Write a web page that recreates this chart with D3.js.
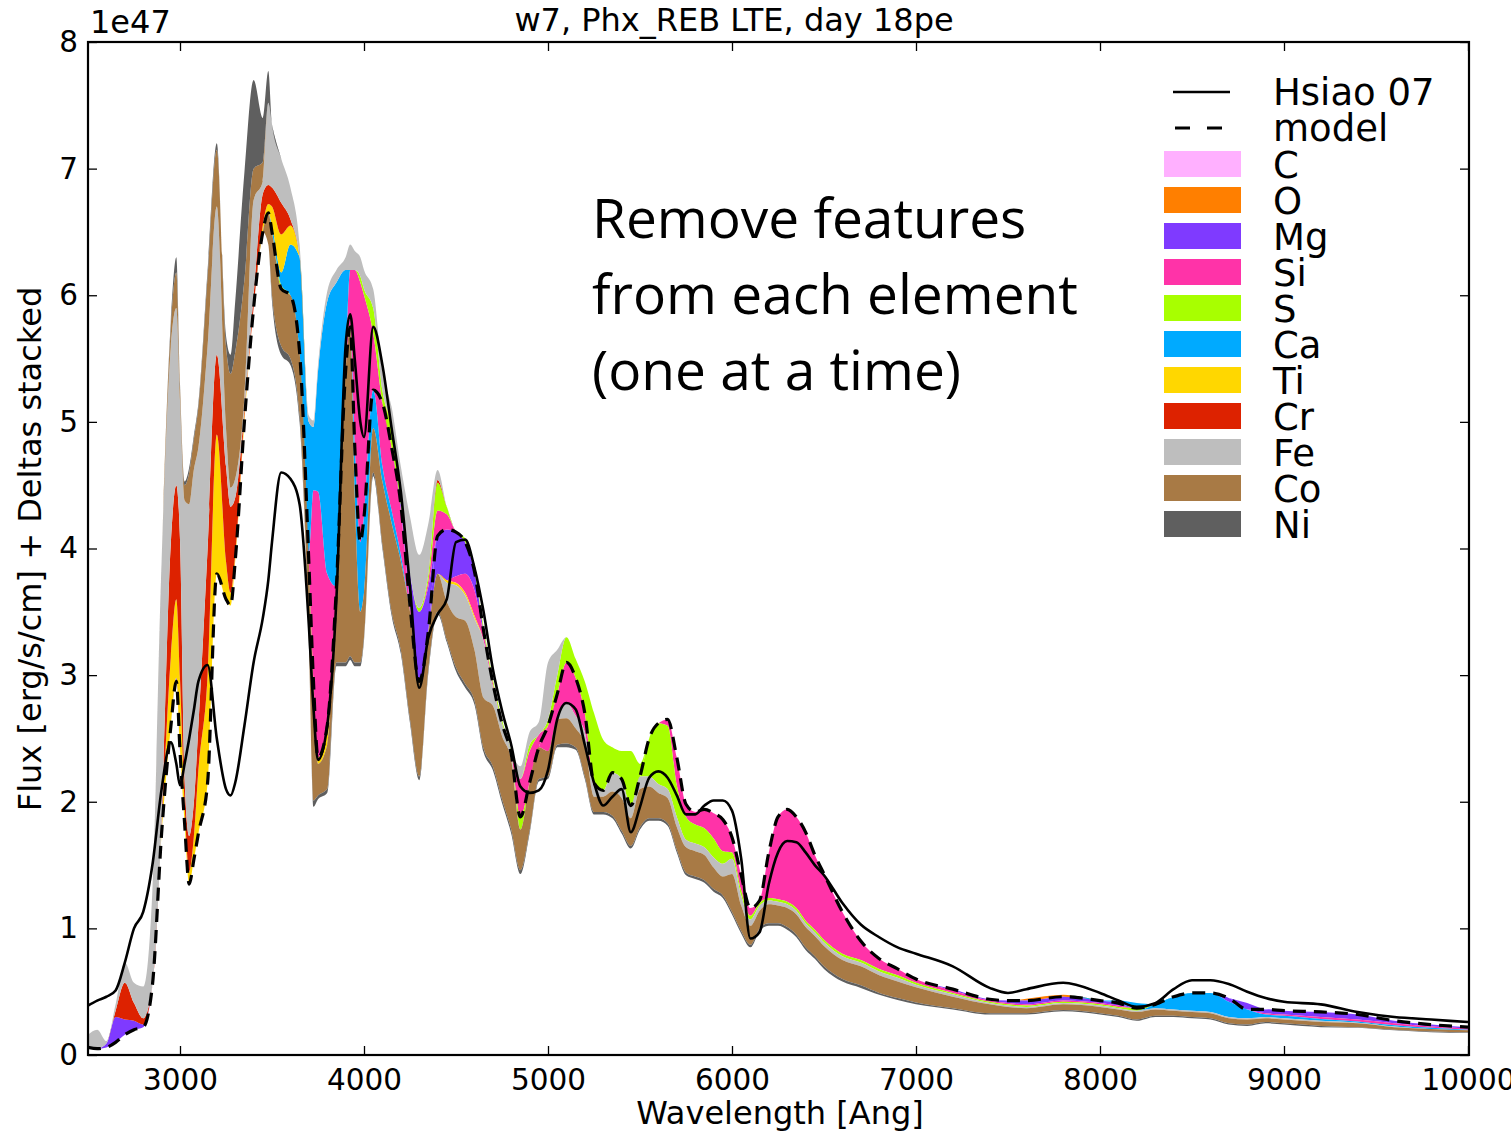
<!DOCTYPE html>
<html><head><meta charset="utf-8">
<script src="https://cdn.jsdelivr.net/npm/d3@7"></script>
<style>body{margin:0;background:#fff}svg{display:block}</style>
</head><body>
<svg id="chart" width="1511" height="1135"></svg>
<script>
// ---------------- data (flux in units of 1e47) ----------------
const wavelengths = [2500,2550,2600,2650,2700,2750,2800,2850,2900,2950,
 2980,3000,3025,3050,3075,3100,3150,3200,3250,3275,
 3300,3350,3400,3450,3480,3500,3550,3600,3650,3700,
 3725,3750,3800,3850,3900,3925,3950,3980,4000,4050,
 4100,4150,4200,4250,4300,4350,4400,4450,4500,4550,
 4600,4650,4700,4750,4800,4850,4900,4950,5000,5050,
 5100,5150,5200,5250,5300,5350,5400,5450,5500,5550,
 5600,5650,5700,5750,5800,5850,5900,5950,6000,6050,
 6100,6150,6200,6250,6300,6350,6400,6450,6500,6600,
 6700,6800,6900,7000,7200,7400,7500,7600,7800,8000,
 8100,8200,8300,8400,8500,8600,8700,8800,8900,9000,
 9200,9400,9600,9800,10000];

const model = [.06,.05,.06,.10,.16,.20,.22,.55,1.75,2.59,
 2.95,2.40,1.83,1.35,1.54,1.75,2.15,3.80,3.60,3.55,
 3.90,5.00,5.90,6.50,6.65,6.50,6.05,6.00,5.55,3.90,
 2.96,2.35,2.60,3.70,5.40,5.75,4.80,4.05,4.25,5.25,
 5.15,4.80,4.35,3.55,2.95,3.35,4.10,4.15,4.13,4.05,
 3.82,3.35,2.94,2.62,2.38,1.88,2.15,2.43,2.60,2.85,
 3.10,2.98,2.70,2.15,2.09,2.23,2.18,1.97,2.20,2.50,
 2.62,2.65,2.35,1.98,1.92,1.94,1.91,1.86,1.72,1.42,
 1.16,1.22,1.60,1.88,1.94,1.88,1.76,1.58,1.43,1.13,
 .90,.76,.68,.60,.52,.44,.43,.43,.46,.43,
 .41,.37,.40,.46,.49,.49,.45,.36,.36,.35,
 .34,.32,.27,.24,.22];

const hsiao = [.39,.43,.46,.51,.73,1.0,1.13,1.5,2.1,2.47,
 2.3,2.13,2.3,2.5,2.72,2.95,3.08,2.5,2.1,2.05,
 2.15,2.6,3.1,3.45,3.75,4.05,4.6,4.55,4.35,3.4,
 2.75,2.33,2.6,3.6,5.6,5.85,5.49,5.0,4.88,5.75,
 5.45,4.95,4.45,3.7,2.9,3.3,3.48,3.6,4.05,4.07,
 3.85,3.5,3.05,2.72,2.45,2.12,2.07,2.09,2.25,2.65,
 2.78,2.73,2.45,2.15,1.97,2.04,2.1,1.76,1.96,2.19,
 2.24,2.19,2.05,1.9,1.9,1.97,2.01,2.01,1.93,1.55,
 .92,.97,1.35,1.6,1.69,1.68,1.6,1.5,1.42,1.2,
 1.03,.93,.85,.80,.70,.53,.49,.52,.57,.49,
 .43,.38,.41,.52,.59,.59,.56,.50,.45,.42,
 .40,.34,.30,.28,.26];

// deltas per element (flux without element minus model)
const deltaC = [0,0,0,0,0,0,0,0,0,0, 0,0,0,0,0,0,0,0,0,0, 0,0,0,0,0,0,0,0,0,0,
 0,0,0,0,0,0,0,0,0,0, 0,0,0,0,0,0,0,0,0,0, 0,0,0,0,0,0,0,0,0,0,
 0,0,0,0,0,0,0,0,0,0, 0,0,0,0,0,0,0,0,0,0, 0,0,0,0,0,0,0,0,0,0,
 0,0,0,0,0,0,0,0,0,0, 0,0,0,0,0,0,0,0,0,0, 0,0,0,0,0];
const deltaO = [0,0,0,0,0,0,0,0,0,0, 0,0,0,0,0,0,0,0,0,0, 0,0,0,0,0,0,0,0,0,0,
 0,0,0,0,0,0,0,0,0,0, 0,0,0,0,0,0,0,0,0,0, 0,0,0,0,0,0,0,0,0,0,
 0,0,0,0,0,0,0,0,0,0, 0,0,0,0,0,0,0,0,0,0, 0,0,0,0,0,0,0,0,0,0,
 0,0,0,0,0,0,0,.015,.015,0, 0,0,0,0,0,0,0,0,0,0, 0,0,0,0,0];
const deltaMg = [0,0,.03,.20,.12,.07,.02,0,0,0,
 .03,.02,0,0,0,0,0,0,0,0, 0,0,0,0,0,0,0,0,0,0, 0,0,0,0,0,0,0,0,0,0,
 0,0,-.05,.25,.55,.35,-.30,-.40,-.35,-.25,
 -.15,-.03,0,0,0,0,0,0,0,0, 0,0,0,0,0,0,0,0,0,0, 0,0,0,0,0,0,0,0,0,0,
 0,0,0,0,0,0,0,0,0,0,
 0,0,0,0,-.01,-.01,-.02,-.03,-.03,-.02,
 -.02,0,0,0,0,0,-.03,.05,-.03,-.03,
 -.04,-.04,-.02,-.015,-.01];
const deltaSi = [0,0,0,0,0,0,0,0,0,0, 0,0,0,0,0,0,0,0,0,0,
 0,0,0,0,0,0,0,0,0,.07,
 1.50,2.10,1.20,0,0,.45,1.40,2.05,1.75,.45,
 -.50,-.50,-.35,-.05,0,.05,.20,.12,-.05,-.15,
 -.20,-.05,-.03,0,0,.30,.25,.10,-.20,-.20,
 -.32,-.30,-.15,-.03,0,0,0,0,0,0,
 0,-.05,-.22,-.10,-.10,-.15,-.20,-.25,-.12,-.12,
 -.06,-.02,-.36,-.65,-.73,-.72,-.70,-.59,-.52,-.33,
 -.15,-.08,-.05,-.03,-.02,-.01,-.01,-.01,-.01,-.01,
 -.01,0,0,0,0,0,0,0,-.01,-.01,
 -.015,-.015,-.015,-.01,-.01];
const deltaS = [0,0,0,0,0,0,0,0,0,0, 0,0,0,0,0,0,0,0,0,0,
 0,0,0,0,0,0,.03,0,0,0,
 0,0,0,0,0,0,0,.05,.05,.20,
 .10,.15,.10,0,.03,.05,.22,.06,0,.03,
 .03,.03,.03,.03,.02,-.10,.05,0,.05,.15,
 .20,.15,.25,.55,.40,.20,.22,.43,.10,-.30,
 -.48,-.50,-.25,-.18,-.15,-.15,-.15,-.10,-.05,-.04,
 -.03,-.02,-.02,-.02,-.02,-.02,-.02,-.02,-.02,-.02,
 -.02,-.02,-.02,-.015,-.01,-.01,-.01,-.01,-.01,-.01,
 -.01,-.02,0,0,0,0,0,0,0,0,
 0,0,0,0,0];
const deltaCa = [0,0,0,0,0,0,0,0,0,0, 0,0,0,0,0,0,0,0,0,0,
 0,0,0,0,0,.05,.10,.40,.75,1.03,
 .50,.95,2.15,2.40,.80,0,-.40,-.55,-.60,-.30,
 -.12,-.10,-.05,0,0,0,0,0,0,0,
 0,0,0,0,0,0,0,0,0,0, 0,0,0,0,0,0,0,0,0,0, 0,0,0,0,0,0,0,0,0,0,
 0,0,0,0,0,0,0,0,0,0, 0,0,0,0,0,0,0,0,0,0,
 .02,.04,-.03,-.10,-.14,-.15,-.12,-.07,-.02,-.02,
 -.015,-.01,-.01,-.01,-.005];
const deltaTi = [0,0,0,0,0,0,0,0,.05,.55,
 .62,.55,.15,.10,.18,.50,.85,1.10,.30,.10,
 .05,.05,0,.05,.07,.15,.30,.15,0,0,
 -.05,-.05,-.15,0,0,0,0,0,0,0,
 0,.02,0,0,0,0,0,-.02,-.02,-.02,
 -.02,0,0,0,0,0,0,0,0,0, 0,0,0,0,0,0,0,0,0,0, 0,0,0,0,0,0,0,0,0,0,
 0,0,0,0,0,0,0,0,0,0, 0,0,0,0,0,0,0,0,0,0, 0,0,0,0,0,0,0,0,0,0,
 0,0,0,0,0];
const deltaCr = [0,0,0,.05,.29,.14,.05,0,.05,.90,
 .90,1.10,.20,.28,.27,.35,1.00,.63,.75,.68,
 .45,.05,.10,.25,.15,.15,.25,.05,0,0,
 0,0,0,0,0,0,0,0,0,0,
 0,0,0,0,0,0,.02,0,0,0,
 0,0,0,0,0,0,0,0,0,0, 0,0,0,0,0,0,0,0,0,0, 0,0,0,0,0,0,0,0,0,0,
 0,0,0,0,0,0,0,0,0,0, 0,0,0,0,0,0,0,0,0,0, 0,0,0,0,0,0,0,0,0,0,
 0,0,0,0,0];
const deltaFe = [.10,.15,.02,.05,.16,.16,.25,.75,2.05,1.55,
 1.40,1.10,2.20,2.62,2.63,2.20,1.60,1.17,.30,.15,
 .15,.10,.75,.10,.65,.50,.35,.25,.10,.05,
 .05,.05,.08,.10,.10,.20,.15,.15,.15,.15,
 .15,.15,.20,.45,.42,.40,.08,-.15,-.25,-.20,
 -.25,-.45,-.15,-.10,-.05,.10,.10,.10,.45,.20,
 -.12,-.10,-.10,-.08,-.05,-.15,-.15,-.10,-.10,-.08,
 -.07,-.07,-.08,-.06,-.06,-.06,-.08,-.10,-.12,-.08,
 -.05,-.04,-.03,-.03,-.03,-.03,-.03,-.03,-.03,-.03,
 -.03,-.03,-.03,-.02,-.02,-.01,-.01,-.01,-.01,-.01,
 -.01,-.01,-.01,-.01,-.01,-.01,-.01,-.01,-.01,-.01,
 -.01,-.005,-.005,0,0];
const deltaCo = [0,0,0,0,0,0,0,0,0,.15,
 .28,.10,.12,.25,.24,.32,.55,.45,.65,.90,
 1.00,.92,.25,.15,-.25,-.50,-.45,-.50,-.50,-.60,
 -.90,-.25,-.35,-.60,-2.30,-2.60,-1.30,-.40,-.35,-.35,
 -.50,-.70,-.70,-.85,-.75,-.30,-.30,-.30,-.40,-.50,
 -.40,-.40,-.48,-.50,-.55,-.32,-.38,-.25,-.20,-.20,
 -.20,-.15,-.25,-.12,-.12,-.19,-.26,-.22,-.30,-.25,
 -.20,-.20,-.18,-.20,-.20,-.20,-.17,-.15,-.30,-.20,
 -.15,-.14,-.15,-.14,-.15,-.16,-.16,-.16,-.16,-.15,
 -.15,-.14,-.13,-.12,-.09,-.07,-.05,-.04,-.045,-.05,
 -.05,-.06,-.05,-.04,-.04,-.04,-.04,-.04,-.03,-.03,
 -.03,-.03,-.02,-.02,-.015];
const deltaNi = [0,0,0,0,0,0,0,0,0,.05,
 .12,.03,.03,.04,.03,.03,.05,.05,.08,.15,
 .40,.85,.70,.35,.25,-.05,-.07,-.05,-.05,-.05,
 -.05,-.03,-.03,-.03,-.03,-.03,-.03,-.03,-.03,-.03,
 -.03,-.03,-.03,-.03,-.03,-.03,-.02,-.02,-.03,-.03,
 -.03,-.03,-.03,-.03,-.03,-.03,-.02,-.02,-.02,-.02,
 -.03,-.02,-.02,-.02,-.02,-.02,-.02,-.02,-.02,-.02,
 -.02,-.02,-.02,-.02,-.02,-.02,-.02,-.02,-.02,-.02,
 -.02,-.02,-.02,-.02,-.02,-.02,-.02,-.02,-.02,-.02,
 -.02,-.015,-.015,-.015,-.01,-.01,-.01,-.01,-.01,-.01,
 -.01,-.01,-.01,-.01,-.01,-.01,-.01,-.01,-.01,-.01,
 -.01,-.005,-.005,-.005,-.005];

const elements = ["C","O","Mg","Si","S","Ca","Ti","Cr","Fe","Co","Ni"];
const elementColors = ["#ffb0ff","#ff7f00","#7f3aff","#ff33a8","#a8ff00","#00aaff","#ffd700","#dd2200","#bebebe","#a87a45","#5f5f5f"];
const deltas = [deltaC,deltaO,deltaMg,deltaSi,deltaS,deltaCa,deltaTi,deltaCr,deltaFe,deltaCo,deltaNi];
const xTicks = [3000,4000,5000,6000,7000,8000,9000,10000];
const yTicks = [0,1,2,3,4,5,6,7,8];
const titleText = "w7, Phx_REB LTE, day 18pe";
const noteLines = ["Remove features","from each element","(one at a time)"];

// ---------------- drawing ----------------
const svg = d3.select("#chart");
const L = 88, R = 1469, T = 42, B = 1055;
const x = d3.scaleLinear().domain([2500,10000]).range([L,1468]);
const y = d3.scaleLinear().domain([0,8]).range([B,T]);
const FONT = "'DejaVu Sans', sans-serif";

svg.append("defs").append("clipPath").attr("id","clip")
  .append("rect").attr("x",L).attr("y",T).attr("width",R-L).attr("height",B-T);
const plot = svg.append("g").attr("clip-path","url(#clip)");

const area = d3.area().x(d=>x(d.w)).y0(d=>y(d.y0)).y1(d=>y(d.y1)).curve(d3.curveMonotoneX);
let posTop = model.slice(), negTop = model.slice();
deltas.forEach((d,k)=>{
  const P = wavelengths.map((w,i)=>({w, y0:posTop[i], y1:posTop[i]+Math.max(d[i],0)}));
  const N = wavelengths.map((w,i)=>({w, y0:negTop[i], y1:negTop[i]+Math.min(d[i],0)}));
  posTop = P.map(p=>p.y1); negTop = N.map(p=>p.y1);
  plot.append("path").attr("d",area(P)).attr("fill",elementColors[k]);
  plot.append("path").attr("d",area(N)).attr("fill",elementColors[k]);
});

const line = d3.line().x((d,i)=>x(wavelengths[i])).y(d=>y(d)).curve(d3.curveMonotoneX);
plot.append("path").attr("d",line(hsiao)).attr("fill","none").attr("stroke","#000").attr("stroke-width",2.6);
plot.append("path").attr("d",line(model)).attr("fill","none").attr("stroke","#000").attr("stroke-width",3.2)
  .attr("stroke-dasharray","13,8");

// axes
function styleAxis(g){
  g.select(".domain").remove();
  g.selectAll(".tick line").attr("stroke","#000").attr("stroke-width",1.3);
  g.selectAll(".tick text").attr("font-family",FONT).attr("font-size",29.5).attr("fill","#000");
}
svg.append("g").attr("transform",`translate(0,${B})`)
  .call(d3.axisBottom(x).tickValues(xTicks).tickSize(-9).tickPadding(14).tickFormat(d3.format("d"))).call(styleAxis);
svg.append("g").attr("transform",`translate(0,${T})`)
  .call(d3.axisTop(x).tickValues(xTicks).tickSize(-9).tickFormat("")).call(styleAxis);
svg.append("g").attr("transform",`translate(${L},0)`)
  .call(d3.axisLeft(y).tickValues(yTicks).tickSize(-9).tickPadding(10).tickFormat(d3.format("d"))).call(styleAxis);
svg.append("g").attr("transform",`translate(${R},0)`)
  .call(d3.axisRight(y).tickValues(yTicks).tickSize(-9).tickFormat("")).call(styleAxis);
svg.append("rect").attr("x",L).attr("y",T).attr("width",R-L).attr("height",B-T)
  .attr("fill","none").attr("stroke","#000").attr("stroke-width",2.2);

// labels
svg.append("text").attr("x",780).attr("y",1124).attr("text-anchor","middle")
  .attr("font-family",FONT).attr("font-size",32).text("Wavelength [Ang]");
svg.append("text").attr("transform","translate(41,549) rotate(-90)").attr("text-anchor","middle")
  .attr("font-family",FONT).attr("font-size",32).text("Flux [erg/s/cm] + Deltas stacked");
svg.append("text").attr("x",734).attr("y",31).attr("text-anchor","middle")
  .attr("font-family",FONT).attr("font-size",32).text(titleText);
svg.append("text").attr("x",90).attr("y",33)
  .attr("font-family",FONT).attr("font-size",32).text("1e47");

// annotation
noteLines.forEach((t,i)=>{
  svg.append("text").attr("x",592).attr("y",238+i*76)
    .attr("font-family","'Open Sans', sans-serif").attr("font-size",55).text(t);
});

// legend
const lg = svg.append("g");
lg.append("line").attr("x1",1173).attr("x2",1230).attr("y1",92).attr("y2",92).attr("stroke","#000").attr("stroke-width",2.6);
lg.append("text").attr("x",1273).attr("y",105).attr("font-family",FONT).attr("font-size",37).text("Hsiao 07");
lg.append("line").attr("x1",1175).attr("x2",1230).attr("y1",128).attr("y2",128).attr("stroke","#000").attr("stroke-width",3.2).attr("stroke-dasharray","15,17");
lg.append("text").attr("x",1273).attr("y",141).attr("font-family",FONT).attr("font-size",37).text("model");
elements.forEach((e,k)=>{
  const cy = 164 + k*36;
  lg.append("rect").attr("x",1164).attr("y",cy-13).attr("width",77).attr("height",26).attr("fill",elementColors[k]);
  lg.append("text").attr("x",1273).attr("y",cy+14).attr("font-family",FONT).attr("font-size",37).text(e);
});
</script>
</body></html>
